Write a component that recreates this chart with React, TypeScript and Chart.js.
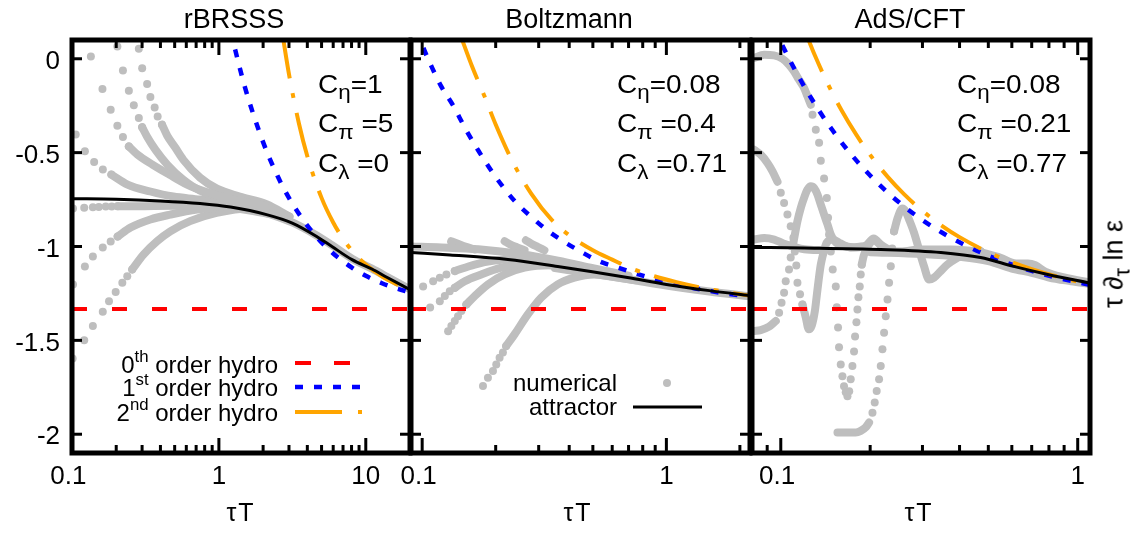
import React, { useEffect, useRef } from 'react';
import { Chart, registerables } from 'chart.js';

Chart.register(...registerables);

type XY = [number, number];

const FONT = '"Liberation Sans", Arial, Helvetica, sans-serif';
const GREY = '#bebebe';
const W = 1132;
const H = 533;

/* ---------------- shared axis ---------------- */
const Y_MIN = -2.1;
const Y_MAX = 0.1;
const Y_TICKS = [-2, -1.5, -1, -0.5, 0];
const Y_TICK_LABELS = ['-2', '-1.5', '-1', '-0.5', '0'];
const ZEROTH_ORDER = -1.3333;

const PANEL_TITLES = ['rBRSSS', 'Boltzmann', 'AdS/CFT'];
const C_ETA = ['1', '0.08', '0.08'];
const C_PI = ['5', '0.4', '0.21'];
const C_LAMBDA = ['0', '0.71', '0.77'];
const X_TITLE = 'τT';

/* ---------------- panel 1 : rBRSSS ---------------- */
const P1_X_RANGE: XY = [0.1, 20];
const P1_X_MAJOR = [0.1, 1, 10];
const P1_X_LABELS = ['0.1 ', '1', '10'];
const P1_X_MINOR = [0.2, 0.3, 0.4, 0.5, 0.6, 0.7, 0.8, 0.9, 2, 3, 4, 5, 6, 7, 8, 9, 20];

const P1_ATTRACTOR: XY[] = [[0.1, -0.745], [0.2, -0.748], [0.4, -0.757], [0.745, -0.771], [1.2, -0.79], [2.11, -0.83], [3.16, -0.875], [4.6, -0.945], [5.88, -1.0], [8.06, -1.07], [11, -1.12], [14, -1.165], [20, -1.23]];
const P1_FIRST: XY[] = [[1.2, 0.148], [1.5, -0.148], [2, -0.444], [2.5, -0.622], [3, -0.741], [4, -0.889], [5, -0.978], [6, -1.037], [8, -1.111], [10, -1.156], [13, -1.197], [16, -1.222], [20, -1.244]];
const P1_SECOND: XY[] = [[2.7, 0.138], [3, -0.082], [3.5, -0.342], [4, -0.519], [5, -0.741], [6, -0.872], [7, -0.959], [8, -1.019], [10, -1.096], [13, -1.162], [16, -1.199], [20, -1.23]];

const P1_A_DOTS: XY[] = [[0.1344, 0.012], [0.1612, -0.161], [0.1834, -0.271], [0.2036, -0.357], [0.2222, -0.417], [0.2438, -0.467]];
const P1_A_BAND: XY[] = [[0.2438, -0.467], [0.2792, -0.511], [0.3527, -0.564], [0.4595, -0.617], [0.6078, -0.67], [0.8042, -0.707], [1.1866, -0.745], [1.8923, -0.782], [3.018, -0.84]];
const P1_B_DOTS: XY[] = [[0.2036, 0.065], [0.2222, -0.062], [0.2438, -0.17], [0.2635, -0.248], [0.285, -0.315], [0.3004, -0.365]];
const P1_B_BAND: XY[] = [[0.3004, -0.365], [0.3247, -0.415], [0.3694, -0.484], [0.4452, -0.564], [0.5713, -0.644], [0.7441, -0.702], [1.1327, -0.745], [1.6203, -0.765], [2.211, -0.79], [3.018, -0.845]];
const P1_C_DOTS: XY[] = [[0.285, 0.053], [0.3004, -0.05], [0.3247, -0.135], [0.3418, -0.204], [0.3654, -0.259], [0.3829, -0.307], [0.4101, -0.351]];
const P1_C_BAND: XY[] = [[0.4101, -0.351], [0.4452, -0.41], [0.5044, -0.473], [0.5713, -0.537], [0.7441, -0.633], [0.9694, -0.692], [1.3868, -0.734], [2.1107, -0.775], [3.018, -0.84]];
const P1_G_DOTS: XY[] = [[0.106, -0.404], [0.1224, -0.493], [0.1415, -0.55], [0.1622, -0.59], [0.1854, -0.617]];
const P1_G_BAND: XY[] = [[0.1854, -0.617], [0.2389, -0.67], [0.3418, -0.707], [0.489, -0.734], [0.7441, -0.75], [1.2432, -0.777], [2.1107, -0.814]];
const P1_D_DOTS: XY[] = [[0.1016, -0.798], [0.1211, -0.794], [0.1387, -0.791], [0.1522, -0.789], [0.1697, -0.787], [0.1864, -0.787], [0.2046, -0.786]];
const P1_D_BAND: XY[] = [[0.2046, -0.786], [0.3, -0.785], [0.5, -0.783], [0.8, -0.783], [1.2, -0.792], [2.11, -0.825]];
const P1_E_DOTS: XY[] = [[0.1016, -1.202], [0.1224, -1.106], [0.1387, -1.053], [0.162, -1.005], [0.1834, -0.973], [0.2046, -0.947]];
const P1_E_BAND: XY[] = [[0.2046, -0.947], [0.2503, -0.899], [0.3418, -0.856], [0.4666, -0.83], [0.7101, -0.803], [1.0643, -0.793], [1.6203, -0.797], [2.1107, -0.82]];
const P1_F_DOTS: XY[] = [[0.101, -1.597], [0.1211, -1.5], [0.1387, -1.424], [0.162, -1.348], [0.1786, -1.291], [0.1983, -1.242], [0.2201, -1.193], [0.2378, -1.158], [0.257, -1.122]];
const P1_F_BAND: XY[] = [[0.257, -1.122], [0.3065, -1.043], [0.3793, -0.972], [0.4666, -0.919], [0.6369, -0.865], [0.9649, -0.821], [1.6203, -0.797], [2.1107, -0.82]];
const P1_LATE_BAND: XY[] = [[2.0, -0.815], [3.16, -0.872], [4.6, -0.94], [5.88, -0.993], [8.06, -1.065], [11, -1.118], [14, -1.162], [20, -1.228]];

/* ---------------- panel 2 : Boltzmann ---------------- */
const P2_X_RANGE: XY = [0.09, 2.2];
const P2_X_MAJOR = [0.1, 1];
const P2_X_LABELS = ['0.1 ', '1'];
const P2_X_MINOR = [0.09, 0.2, 0.3, 0.4, 0.5, 0.6, 0.7, 0.8, 0.9, 2];

const P2_ATTRACTOR: XY[] = [[0.09, -1.032], [0.13, -1.045], [0.2244, -1.069], [0.359, -1.106], [0.49, -1.133], [0.693, -1.165], [1, -1.202], [1.5, -1.235], [2.2, -1.262]];
const P2_FIRST: XY[] = [[0.09, 0.25], [0.1, 0.075], [0.11, -0.05], [0.12, -0.15], [0.134, -0.25], [0.15, -0.37], [0.17, -0.49], [0.2, -0.63], [0.24, -0.76], [0.284, -0.85], [0.33, -0.92], [0.376, -0.97], [0.45, -1.03], [0.533, -1.08], [0.625, -1.11], [0.8, -1.155], [1, -1.19], [1.3, -1.222], [1.7, -1.248], [2.2, -1.268]];
const P2_SECOND: XY[] = [[0.144, 0.12], [0.16, -0.04], [0.18, -0.2], [0.2, -0.35], [0.235, -0.55], [0.28, -0.72], [0.34, -0.86], [0.4, -0.94], [0.5, -1.02], [0.6, -1.07], [0.73, -1.12], [0.9, -1.16], [1.1, -1.19], [1.4, -1.22], [1.8, -1.245], [2.2, -1.262]];

const P2_U_BAND: XY[] = [[0.09, -1.0], [0.12, -1.005], [0.17, -1.015], [0.25, -1.04], [0.36, -1.075], [0.5, -1.115], [0.7, -1.155]];
const P2_K1_BAND: XY[] = [[0.1314, -0.972], [0.14, -0.985], [0.15, -1.0], [0.1641, -1.016]];
const P2_K2_BAND: XY[] = [[0.2176, -0.972], [0.23, -0.99], [0.245, -1.005], [0.2626, -1.02]];
const P2_K3_BAND: XY[] = [[0.2658, -0.967], [0.28, -0.985], [0.298, -1.003], [0.3167, -1.02]];
const P2_L1_DOTS: XY[] = [[0.1009, -1.213], [0.1109, -1.185], [0.1181, -1.167], [0.1257, -1.149], [0.136, -1.131]];
const P2_L1_BAND: XY[] = [[0.136, -1.131], [0.1641, -1.096], [0.198, -1.075], [0.2389, -1.068], [0.306, -1.08], [0.44, -1.12]];
const P2_L2_DOTS: XY[] = [[0.1078, -1.325], [0.1181, -1.291], [0.1238, -1.264], [0.1297, -1.238], [0.136, -1.22]];
const P2_L2_BAND: XY[] = [[0.136, -1.22], [0.1494, -1.185], [0.1746, -1.149], [0.2107, -1.113], [0.2626, -1.09], [0.337, -1.1], [0.45, -1.125]];
const P2_L3_DOTS: XY[] = [[0.1277, -1.451], [0.1317, -1.424], [0.136, -1.397], [0.1402, -1.371], [0.1447, -1.344], [0.1517, -1.309]];
const P2_L3_BAND: XY[] = [[0.1517, -1.309], [0.1641, -1.264], [0.1859, -1.202], [0.2176, -1.149], [0.2626, -1.113], [0.337, -1.1], [0.4469, -1.125]];
const P2_L4_DOTS: XY[] = [[0.1774, -1.743], [0.1859, -1.699], [0.1949, -1.663], [0.2011, -1.628], [0.2075, -1.592], [0.2141, -1.565], [0.2208, -1.53]];
const P2_L4_BAND: XY[] = [[0.2208, -1.53], [0.2389, -1.468], [0.2708, -1.362], [0.3068, -1.273], [0.3589, -1.202], [0.4201, -1.166], [0.5069, -1.149], [0.6, -1.16], [0.75, -1.18]];
const P2_LATE_BAND: XY[] = [[0.35, -1.115], [0.5, -1.145], [0.7, -1.175], [1, -1.208], [1.5, -1.24], [2.2, -1.266]];

/* ---------------- panel 3 : AdS/CFT ---------------- */
const P3_X_RANGE: XY = [0.08, 1.1];
const P3_X_MAJOR = [0.1, 1];
const P3_X_LABELS = ['0.1 ', '1'];
const P3_X_MINOR = [0.09, 0.2, 0.3, 0.4, 0.5, 0.6, 0.7, 0.8, 0.9];

const P3_ATTRACTOR: XY[] = [[0.08, -1.005], [0.12, -1.008], [0.217, -1.016], [0.346, -1.032], [0.471, -1.059], [0.609, -1.106], [0.793, -1.149], [1.1, -1.195]];
const P3_FIRST: XY[] = [[0.08, 0.444], [0.09, 0.247], [0.1, 0.089], [0.11, -0.04], [0.12, -0.148], [0.135, -0.28], [0.15, -0.385], [0.17, -0.497], [0.2, -0.622], [0.23, -0.715], [0.26, -0.786], [0.3, -0.859], [0.35, -0.927], [0.4, -0.978], [0.5, -1.049], [0.6, -1.096], [0.7, -1.13], [0.85, -1.166], [1, -1.191], [1.1, -1.204]];
const P3_SECOND: XY[] = [[0.12, 0.158], [0.13, 0.021], [0.145, -0.143], [0.16, -0.273], [0.18, -0.407], [0.2, -0.512], [0.23, -0.632], [0.26, -0.721], [0.3, -0.81], [0.35, -0.891], [0.4, -0.95], [0.5, -1.031], [0.6, -1.084], [0.7, -1.121], [0.85, -1.16], [1, -1.187], [1.1, -1.2]];

const P3_Q_BAND: XY[] = [[0.0813, 0.004], [0.0879, 0.021], [0.0949, 0.018], [0.1013, 0.0], [0.1066, -0.032], [0.1109, -0.068], [0.1152, -0.112], [0.1198, -0.156], [0.123, -0.2], [0.1262, -0.245]];
const P3_Q_DOTS: XY[] = [[0.1279, -0.298], [0.1312, -0.378], [0.1346, -0.448], [0.1364, -0.543], [0.1399, -0.638], [0.1429, -0.741], [0.1443, -0.847], [0.1454, -0.936], [0.1474, -1.027], [0.1496, -1.122], [0.1532, -1.213], [0.1544, -1.324], [0.1559, -1.431], [0.1571, -1.537], [0.1592, -1.628], [0.1613, -1.691], [0.1633, -1.745], [0.1655, -1.777], [0.1677, -1.798], [0.17, -1.771], [0.172, -1.707], [0.1743, -1.637], [0.1765, -1.559], [0.1779, -1.479], [0.1798, -1.404], [0.1812, -1.335], [0.1826, -1.271], [0.1845, -1.213], [0.1859, -1.149], [0.1874, -1.096]];
const P3_Q_BAND2: XY[] = [[0.1874, -1.096], [0.1903, -1.048], [0.1963, -1.0], [0.2056, -0.968], [0.2154, -0.989], [0.2257, -1.027], [0.2401, -1.027]];
const P3_R_BAND: XY[] = [[0.0813, -0.484], [0.0856, -0.511], [0.0902, -0.555], [0.0938, -0.6], [0.0975, -0.655]];
const P3_R_DOTS: XY[] = [[0.1, -0.714], [0.1026, -0.768], [0.1053, -0.83], [0.108, -0.892], [0.1103, -0.954], [0.1115, -1.027], [0.1128, -1.101], [0.1138, -1.193], [0.1161, -1.255], [0.1183, -1.309]];
const P3_R_BAND2: XY[] = [[0.1183, -1.309], [0.1214, -1.378], [0.1242, -1.441], [0.1272, -1.42], [0.1302, -1.346], [0.1322, -1.261], [0.1342, -1.176], [0.1364, -1.096], [0.1396, -1.027], [0.1429, -0.979], [0.1496, -0.963], [0.1592, -0.984], [0.172, -1.005], [0.1859, -1.0]];
const P3_S_BAND: XY[] = [[0.0813, -1.45], [0.0856, -1.445], [0.0913, -1.427], [0.0962, -1.397]];
const P3_S_DOTS: XY[] = [[0.0987, -1.353], [0.1006, -1.3], [0.1026, -1.246], [0.1039, -1.185], [0.1066, -1.122], [0.108, -1.059], [0.1097, -1.0]];
const P3_S_BAND2: XY[] = [[0.1097, -1.0], [0.1138, -0.865], [0.1168, -0.794], [0.1198, -0.741], [0.123, -0.697], [0.1262, -0.679], [0.1295, -0.688], [0.1329, -0.723], [0.1364, -0.777], [0.1399, -0.83], [0.1437, -0.883], [0.1474, -0.936], [0.1532, -0.979], [0.1655, -1.0], [0.1788, -1.005], [0.1933, -0.995], [0.2056, -0.957], [0.2171, -0.989], [0.2347, -1.021], [0.2535, -1.027], [0.296, -1.016], [0.3736, -1.016], [0.4714, -1.027]];
const P3_W_BAND: XY[] = [[0.1552, -1.991], [0.1677, -1.991], [0.1788, -1.991], [0.1859, -1.982], [0.1933, -1.963], [0.1983, -1.938]];
const P3_W_DOTS: XY[] = [[0.2036, -1.885], [0.2072, -1.831], [0.2104, -1.77], [0.2143, -1.707], [0.2171, -1.637], [0.22, -1.548], [0.2228, -1.459], [0.2257, -1.371], [0.2288, -1.282], [0.2316, -1.193], [0.2347, -1.105], [0.2373, -1.011], [0.2407, -0.919]];
const P3_W_BAND2: XY[] = [[0.2407, -0.919], [0.2477, -0.846], [0.2569, -0.798], [0.2635, -0.814], [0.2704, -0.856], [0.2811, -0.927], [0.2921, -1.016], [0.3037, -1.105], [0.3157, -1.176], [0.3282, -1.166], [0.3457, -1.131], [0.364, -1.096], [0.3935, -1.06], [0.4251, -1.034], [0.4714, -1.025]];
const P3_LEFT_BAND: XY[] = [[0.0813, -0.963], [0.088, -0.955], [0.095, -0.963], [0.102, -0.984], [0.11, -1.0], [0.12, -1.015], [0.14, -1.02]];
const P3_LATE_UPPER: XY[] = [[0.47, -1.03], [0.55, -1.06], [0.62, -1.09], [0.68, -1.09], [0.72, -1.1], [0.78, -1.135], [0.9, -1.165], [1.1, -1.192]];
const P3_LATE_LOWER: XY[] = [[0.2, -1.03], [0.3, -1.04], [0.4, -1.055], [0.5, -1.078], [0.6, -1.118], [0.7, -1.14], [0.8, -1.165], [0.95, -1.185], [1.1, -1.2]];

/* ---------------- dataset helpers ---------------- */
const pts = (d: XY[]) => d.map(([x, y]) => ({ x, y }));
const dots = (d: XY[]) => ({
  data: pts(d), showLine: false, pointRadius: 4, pointHoverRadius: 0,
  pointBackgroundColor: GREY, pointBorderWidth: 0, borderColor: GREY, clip: 0, order: 10,
});
const band = (d: XY[]) => ({
  data: pts(d), showLine: true, borderColor: GREY, borderWidth: 8, borderCapStyle: 'round',
  borderJoinStyle: 'round', pointRadius: 0, pointHoverRadius: 0, cubicInterpolationMode: 'monotone',
  clip: 0, order: 10, fill: false,
});
const curve = (d: XY[], color: string, width: number, dash: number[], order: number) => ({
  data: pts(d), showLine: true, borderColor: color, borderWidth: width, borderDash: dash,
  borderCapStyle: 'butt', pointRadius: 0, pointHoverRadius: 0, cubicInterpolationMode: 'monotone',
  clip: 0, order, fill: false,
});
const RED_DASH = [15, 25];
const BLUE_DASH = [8, 11];
const ORANGE_DASH = [46, 15, 5, 15];
const theory = (range: XY, first: XY[], second: XY[], attractor: XY[]) => [
  curve(attractor, '#000000', 3, [], 1),
  curve(second, '#ffa500', 4, ORANGE_DASH, 3),
  curve(first, '#0000ff', 4.5, BLUE_DASH, 4),
  curve([[range[0], ZEROTH_ORDER], [range[1], ZEROTH_ORDER]], '#ff0000', 4, RED_DASH, 5),
];

type PanelCfg = {
  left: number; right: number; range: XY; major: number[]; labels: string[]; minor: number[];
  showY: boolean; legend: 'hydro' | 'numerical' | ''; datasets: any[];
};

const PANELS: PanelCfg[] = [
  {
    left: 72, right: 410, range: P1_X_RANGE, major: P1_X_MAJOR, labels: P1_X_LABELS, minor: P1_X_MINOR,
    showY: true, legend: 'hydro',
    datasets: [
      ...theory(P1_X_RANGE, P1_FIRST, P1_SECOND, P1_ATTRACTOR),
      band(P1_LATE_BAND),
      dots(P1_A_DOTS), band(P1_A_BAND), dots(P1_B_DOTS), band(P1_B_BAND), dots(P1_C_DOTS), band(P1_C_BAND),
      dots(P1_G_DOTS), band(P1_G_BAND), dots(P1_D_DOTS), band(P1_D_BAND), dots(P1_E_DOTS), band(P1_E_BAND),
      dots(P1_F_DOTS), band(P1_F_BAND),
    ],
  },
  {
    left: 411, right: 750, range: P2_X_RANGE, major: P2_X_MAJOR, labels: P2_X_LABELS, minor: P2_X_MINOR,
    showY: false, legend: 'numerical',
    datasets: [
      ...theory(P2_X_RANGE, P2_FIRST, P2_SECOND, P2_ATTRACTOR),
      band(P2_LATE_BAND), band(P2_U_BAND), band(P2_K1_BAND), band(P2_K2_BAND), band(P2_K3_BAND),
      dots(P2_L1_DOTS), band(P2_L1_BAND), dots(P2_L2_DOTS), band(P2_L2_BAND),
      dots(P2_L3_DOTS), band(P2_L3_BAND), dots(P2_L4_DOTS), band(P2_L4_BAND),
    ],
  },
  {
    left: 752, right: 1090, range: P3_X_RANGE, major: P3_X_MAJOR, labels: P3_X_LABELS, minor: P3_X_MINOR,
    showY: false, legend: '',
    datasets: [
      ...theory(P3_X_RANGE, P3_FIRST, P3_SECOND, P3_ATTRACTOR),
      band(P3_LATE_UPPER), band(P3_LATE_LOWER), band(P3_LEFT_BAND),
      band(P3_Q_BAND), dots(P3_Q_DOTS), band(P3_Q_BAND2),
      band(P3_R_BAND), dots(P3_R_DOTS), band(P3_R_BAND2),
      band(P3_S_BAND), dots(P3_S_DOTS), band(P3_S_BAND2),
      band(P3_W_BAND), dots(P3_W_DOTS), band(P3_W_BAND2),
    ],
  },
];

/* ---------------- frame / ticks / legend-sample plugin ---------------- */
function framePlugin(cfg: PanelCfg) {
  return {
    id: 'frame',
    afterDatasetsDraw(chart: any) {
      const { ctx, chartArea: a } = chart;
      const xs = chart.scales.x;
      const ys = chart.scales.y;
      const seg = (x1: number, y1: number, x2: number, y2: number) => {
        ctx.beginPath(); ctx.moveTo(x1, y1); ctx.lineTo(x2, y2); ctx.stroke();
      };
      ctx.save();
      ctx.strokeStyle = '#000';
      ctx.lineCap = 'butt';
      ctx.lineWidth = 3;
      Y_TICKS.forEach((v) => {
        const y = ys.getPixelForValue(v);
        seg(a.left, y, a.left + 10, y);
        seg(a.right, y, a.right - 10, y);
      });
      cfg.major.forEach((v) => {
        const x = xs.getPixelForValue(v);
        seg(x, a.bottom, x, a.bottom - 15);
        seg(x, a.top, x, a.top + 15);
      });
      cfg.minor.forEach((v) => {
        const x = xs.getPixelForValue(v);
        seg(x, a.bottom, x, a.bottom - 8);
        seg(x, a.top, x, a.top + 8);
      });
      ctx.lineWidth = 5;
      ctx.strokeRect(a.left, a.top, a.right - a.left, a.bottom - a.top);

      if (cfg.legend === 'hydro') {
        ctx.lineWidth = 4; ctx.strokeStyle = '#ff0000'; ctx.setLineDash([16, 23]);
        seg(295, 363, 350, 363);
        ctx.lineWidth = 4.5; ctx.strokeStyle = '#0000ff'; ctx.setLineDash(BLUE_DASH);
        seg(295, 387, 362, 387);
        ctx.lineWidth = 4; ctx.strokeStyle = '#ffa500'; ctx.setLineDash([47, 16, 4, 20]);
        seg(295, 412, 362, 412);
      } else if (cfg.legend === 'numerical') {
        ctx.fillStyle = GREY;
        ctx.beginPath(); ctx.arc(667, 383, 4, 0, Math.PI * 2); ctx.fill();
        ctx.setLineDash([]); ctx.lineWidth = 3; ctx.strokeStyle = '#000';
        seg(633, 407, 702, 407);
      }
      ctx.restore();
    },
  };
}

function Panel({ cfg }: { cfg: PanelCfg }) {
  const ref = useRef<HTMLCanvasElement>(null);
  useEffect(() => {
    const canvas = ref.current;
    if (!canvas) return;
    const yWidth = cfg.showY ? cfg.left : 0;
    const chart = new Chart(canvas, {
      type: 'line',
      data: { datasets: cfg.datasets },
      options: {
        animation: false,
        responsive: false,
        events: [],
        layout: { padding: { left: cfg.left - yWidth, right: W - cfg.right, top: 40, bottom: 0 } },
        plugins: { legend: { display: false }, tooltip: { enabled: false } },
        scales: {
          x: {
            type: 'logarithmic', position: 'bottom', min: cfg.range[0], max: cfg.range[1],
            grid: { display: false, drawTicks: false }, border: { display: false },
            ticks: {
              autoSkip: false, maxRotation: 0, minRotation: 0, padding: 8, color: '#000',
              font: { family: FONT, size: 26 },
              callback: (_v: any, i: number) => cfg.labels[i],
            },
            afterBuildTicks: (s: any) => { s.ticks = cfg.major.map((v) => ({ value: v })); },
            afterFit: (s: any) => { s.height = H - 453; },
          },
          y: {
            type: 'linear', position: 'left', min: Y_MIN, max: Y_MAX,
            grid: { display: false, drawTicks: false }, border: { display: false },
            ticks: {
              display: cfg.showY, padding: 12, labelOffset: 3, color: '#000',
              font: { family: FONT, size: 26 },
              callback: (_v: any, i: number) => Y_TICK_LABELS[i],
            },
            afterBuildTicks: (s: any) => { s.ticks = Y_TICKS.map((v) => ({ value: v })); },
            afterFit: (s: any) => { s.width = yWidth; },
          },
        },
      } as any,
      plugins: [framePlugin(cfg)],
    });
    return () => chart.destroy();
  }, [cfg]);
  return <canvas ref={ref} width={W} height={H} style={{ position: 'absolute', left: 0, top: 0, width: W, height: H }} />;
}

/* ---------------- text overlay ---------------- */
const base: React.CSSProperties = {
  position: 'absolute', whiteSpace: 'nowrap', lineHeight: 1, fontFamily: FONT, color: '#000',
};
const TITLE_X = [234, 569, 910];
const PARAM_X = [318, 617, 957];
const PARAM_Y = [84, 123.5, 163.5];
const XTITLE_X = [241, 578, 919];
const HYDRO_SUP = [['0', 'th'], ['1', 'st'], ['2', 'nd']];
const HYDRO_BASELINE = [373.3, 396.7, 421.7];
const NUM_LABELS = ['numerical', 'attractor'];
const NUM_BASELINE = [391.7, 415];

const capTop = (cy: number, fs: number) => cy - 0.4885 * fs;
const baseTop = (b: number, fs: number) => b - 0.8465 * fs;
const sub: React.CSSProperties = { fontSize: '0.8em', position: 'relative', top: '0.32em' };
const sup: React.CSSProperties = { fontSize: '0.7em', position: 'relative', top: '-0.65em' };

export default function App() {
  const symbols = ['η', 'π', 'λ'];
  const values = [C_ETA, C_PI, C_LAMBDA];
  return (
    <div style={{ position: 'absolute', left: 0, top: 0, width: W, height: H, background: '#fff', overflow: 'hidden' }}>
      {PANELS.map((p, i) => <Panel key={i} cfg={p} />)}
      {PANEL_TITLES.map((t, i) => (
        <div key={'t' + i} style={{ ...base, fontSize: 27, left: TITLE_X[i], top: 19, transform: 'translate(-50%,-50%)' }}>{t}</div>
      ))}
      {PANEL_TITLES.map((_t, i) => symbols.map((s, r) => (
        <div key={'c' + i + r} style={{ ...base, fontSize: 25, left: PARAM_X[i], top: capTop(PARAM_Y[r], 25), transform: 'scaleX(1.12)', transformOrigin: 'left center' }}>
          C<span style={sub}>{s}</span>{r > 0 ? ' ' : ''}={values[r][i]}
        </div>
      )))}
      {HYDRO_SUP.map(([n, s], r) => (
        <div key={'h' + r} style={{ ...base, fontSize: 24, right: W - 278, top: baseTop(HYDRO_BASELINE[r], 24) }}>
          {n}<span style={sup}>{s}</span> order hydro
        </div>
      ))}
      {NUM_LABELS.map((t, r) => (
        <div key={'n' + r} style={{ ...base, fontSize: 24, right: W - 617, top: baseTop(NUM_BASELINE[r], 24) }}>{t}</div>
      ))}
      {XTITLE_X.map((x, i) => (
        <div key={'x' + i} style={{ ...base, fontSize: 25, letterSpacing: 2, left: x, top: 512, transform: 'translate(-50%,-50%)' }}>{X_TITLE}</div>
      ))}
      <div style={{ ...base, fontSize: 27, left: 1114, top: 264, transform: 'translate(-50%,-50%) rotate(-90deg)' }}>
        τ ∂<span style={sub}>τ</span> ln ε
      </div>
    </div>
  );
}
